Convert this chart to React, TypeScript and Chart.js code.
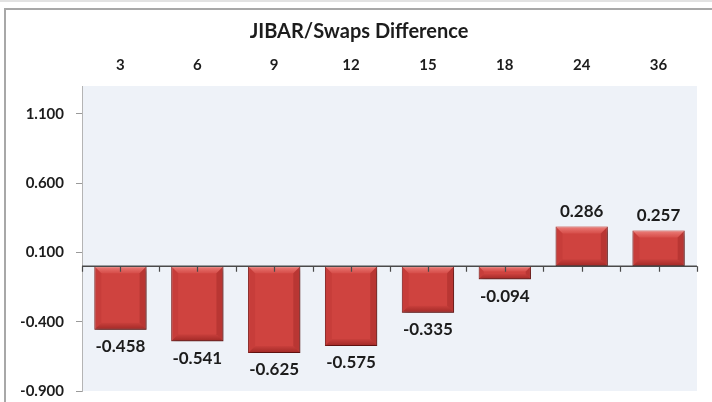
import React, { useEffect, useRef } from "react";
import { Chart, registerables } from "chart.js";

Chart.register(...registerables);

const categories = ["3", "6", "9", "12", "15", "18", "24", "36"];
const differences = [-0.458, -0.541, -0.625, -0.575, -0.335, -0.094, 0.286, 0.257];
const yTickValues = [-0.9, -0.4, 0.1, 0.6, 1.1];
const yMin = -0.9;
const yMax = 1.3;
const chartTitle = "JIBAR/Swaps Difference";

const FONT = "Lato, 'Open Sans', sans-serif";
const TEXT = "#1c1c1c";

const plotBackground = {
  id: "plotBackground",
  beforeDraw(chart: any) {
    const { ctx, chartArea: a } = chart;
    ctx.save();
    ctx.fillStyle = "#eef2f8";
    ctx.fillRect(a.left, a.top, a.right - a.left, a.bottom - a.top);
    ctx.restore();
  },
};

const barShadow = {
  id: "barShadow",
  beforeDatasetDraw(chart: any) {
    const ctx = chart.ctx;
    ctx.save();
    ctx.shadowColor = "rgba(0,0,0,0.35)";
    ctx.shadowBlur = 4;
    ctx.shadowOffsetX = 2;
    ctx.shadowOffsetY = 3;
  },
  afterDatasetDraw(chart: any) {
    chart.ctx.restore();
  },
};

const barDecor = {
  id: "barDecor",
  afterDatasetsDraw(chart: any) {
    const { ctx, chartArea: a } = chart;
    const meta = chart.getDatasetMeta(0);
    const xs = chart.scales.x;
    const ys = chart.scales.y;
    const values = chart.data.datasets[0].data as number[];

    meta.data.forEach((el: any) => {
      const p = el.getProps(["x", "y", "base", "width"], true);
      const left = p.x - p.width / 2;
      const right = p.x + p.width / 2;
      const top = Math.min(p.y, p.base);
      const bottom = Math.max(p.y, p.base);
      const h = bottom - top;
      const b = Math.min(7, h / 2.5);
      ctx.save();
      let g = ctx.createLinearGradient(0, top, 0, top + b);
      g.addColorStop(0, "rgba(255,175,170,0.6)");
      g.addColorStop(1, "rgba(255,140,135,0.15)");
      ctx.fillStyle = g;
      ctx.beginPath();
      ctx.moveTo(left, top);
      ctx.lineTo(right, top);
      ctx.lineTo(right - b, top + b);
      ctx.lineTo(left + b, top + b);
      ctx.closePath();
      ctx.fill();
      g = ctx.createLinearGradient(0, bottom - b, 0, bottom);
      g.addColorStop(0, "rgba(90,0,0,0.05)");
      g.addColorStop(1, "rgba(90,0,0,0.4)");
      ctx.fillStyle = g;
      ctx.beginPath();
      ctx.moveTo(left, bottom);
      ctx.lineTo(right, bottom);
      ctx.lineTo(right - b, bottom - b);
      ctx.lineTo(left + b, bottom - b);
      ctx.closePath();
      ctx.fill();
      ctx.fillStyle = "rgba(110,0,0,0.08)";
      ctx.beginPath();
      ctx.moveTo(left, top);
      ctx.lineTo(left + b, top + b);
      ctx.lineTo(left + b, bottom - b);
      ctx.lineTo(left, bottom);
      ctx.closePath();
      ctx.fill();
      ctx.fillStyle = "rgba(90,0,0,0.18)";
      ctx.beginPath();
      ctx.moveTo(right, top);
      ctx.lineTo(right - b, top + b);
      ctx.lineTo(right - b, bottom - b);
      ctx.lineTo(right, bottom);
      ctx.closePath();
      ctx.fill();
      ctx.restore();
    });

    const y0 = ys.getPixelForValue(0);
    ctx.save();
    ctx.strokeStyle = "#4a4a4a";
    ctx.lineWidth = 1.5;
    ctx.beginPath();
    ctx.moveTo(a.left, y0);
    ctx.lineTo(a.right, y0);
    ctx.stroke();
    ctx.lineWidth = 1.2;
    ctx.beginPath();
    for (let i = 0; i < categories.length; i++) {
      const positions = [xs.getPixelForValue(i - 0.5), xs.getPixelForValue(i)];
      if (i === categories.length - 1) positions.push(xs.getPixelForValue(i + 0.5));
      positions.forEach((px: number) => {
        const xx = Math.round(px) + 0.5;
        ctx.moveTo(xx, y0);
        ctx.lineTo(xx, y0 + 5.5);
      });
    }
    ctx.stroke();
    ctx.restore();

    ctx.save();
    ctx.font = `bold 17px ${FONT}`;
    ctx.fillStyle = TEXT;
    ctx.textAlign = "center";
    ctx.textBaseline = "middle";
    meta.data.forEach((el: any, i: number) => {
      const v = values[i];
      const p = el.getProps(["x", "y"], true);
      const ty = v < 0 ? p.y + 17 : p.y - 15;
      ctx.fillText(v.toFixed(3), p.x, ty);
    });
    ctx.restore();
  },
};

export default function App() {
  const ref = useRef<HTMLCanvasElement | null>(null);

  useEffect(() => {
    if (!ref.current) return;
    const chart = new Chart(ref.current, {
      type: "bar",
      data: {
        labels: categories,
        datasets: [
          {
            data: differences,
            backgroundColor: "#cf433f",
            borderColor: "#8f2724",
            borderWidth: 1,
            borderSkipped: false,
            categoryPercentage: 1,
            barPercentage: 0.68,
          },
        ],
      },
      options: {
        responsive: false,
        animation: false,
        devicePixelRatio: 1,
        layout: { padding: { top: 0, left: 21, right: 15, bottom: 11 } },
        plugins: {
          legend: { display: false },
          tooltip: { enabled: false },
          title: {
            display: true,
            text: chartTitle,
            color: TEXT,
            font: { family: FONT, size: 20, weight: "bold", lineHeight: 1.2 },
            padding: { top: 20, bottom: 0 },
          },
        },
        scales: {
          x: {
            position: "top",
            grid: { display: false, drawTicks: false },
            border: { display: false },
            ticks: {
              color: TEXT,
              font: { family: FONT, size: 15, weight: "bold" },
              padding: 12,
              maxRotation: 0,
            },
            afterFit: (s: any) => {
              s.height = 42;
              s.paddingLeft = 0;
              s.paddingRight = 0;
            },
          },
          y: {
            min: yMin,
            max: yMax,
            afterBuildTicks: (s: any) => {
              s.ticks = yTickValues.map((v) => ({ value: v }));
            },
            grid: {
              drawOnChartArea: false,
              drawTicks: true,
              tickLength: 6,
              color: "#9a9a9a",
            },
            border: { display: true, color: "#b4b4b4", width: 1 },
            ticks: {
              color: TEXT,
              font: { family: FONT, size: 15, weight: "bold" },
              padding: 12,
              callback: (v: any) => Number(v).toFixed(3),
            },
            afterFit: (s: any) => {
              s.width = 61;
              s.paddingTop = 0;
              s.paddingBottom = 0;
            },
          },
        },
      },
      plugins: [plotBackground, barShadow, barDecor],
    });
    return () => chart.destroy();
  }, []);

  return (
    <div
      style={{
        position: "absolute",
        left: 0,
        top: 0,
        width: 712,
        height: 402,
        background: "#ffffff",
        overflow: "hidden",
      }}
    >
      <div
        style={{
          position: "absolute",
          left: 0,
          top: 0,
          width: 712,
          height: 2,
          background: "#e2e2e2",
        }}
      />
      <div
        style={{
          position: "absolute",
          left: 4,
          top: 8,
          width: 720,
          height: 410,
          borderTop: "2px solid #a8a8a8",
          borderLeft: "2px solid #a8a8a8",
        }}
      />
      <canvas
        ref={ref}
        width={712}
        height={402}
        style={{ position: "absolute", left: 0, top: 0, width: 712, height: 402 }}
      />
    </div>
  );
}
